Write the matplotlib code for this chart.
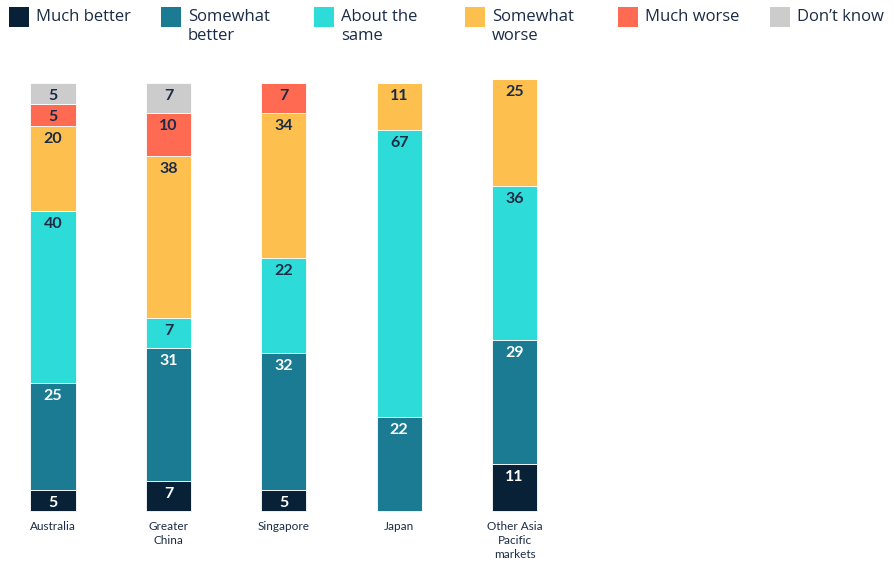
import matplotlib
matplotlib.use("Agg")
import matplotlib.pyplot as plt
from matplotlib.patches import Rectangle
import numpy as np

plt.rcParams['font.family'] = ['Lato', 'DejaVu Sans']

categories = ["Australia", "Greater\nChina", "Singapore", "Japan", "Other Asia\nPacific\nmarkets"]
series_names = ["Much better", "Somewhat\nbetter", "About the\nsame", "Somewhat\nworse", "Much worse", "Don\u2019t know"]
much_better = [5, 7, 5, 0, 11]
somewhat_better = [25, 31, 32, 22, 29]
about_same = [40, 7, 22, 67, 36]
somewhat_worse = [20, 38, 34, 11, 25]
much_worse = [5, 10, 7, 0, 0]
dont_know = [5, 7, 0, 0, 0]

series = [much_better, somewhat_better, about_same, somewhat_worse, much_worse, dont_know]
colors = ["#082137", "#1a7b92", "#2ddbd9", "#fdc04f", "#fe6b52", "#cccccc"]
label_colors = ["white", "white", "#1b2b45", "#1b2b45", "#1b2b45", "#1b2b45"]
text_color = "#1b2b45"

W, H = 894, 565
fig = plt.figure(figsize=(W / 100, H / 100), dpi=100)
ax_bottom_px, ax_top_px = 511, 83
ax = fig.add_axes([0, (H - ax_bottom_px) / H, 1, (ax_bottom_px - ax_top_px) / H])
spacing = 115.4
x0 = 53
ax.set_xlim(-x0 / spacing, (W - x0) / spacing)
ax.set_ylim(0, 100)
ax.axis('off')

x = np.arange(len(categories))
bottom = np.zeros(len(categories))
px_per_unit = (ax_bottom_px - ax_top_px) / 100
for vals, c, lc in zip(series, colors, label_colors):
    vals = np.array(vals, dtype=float)
    ax.bar(x, vals, bottom=bottom, width=45 / spacing, color=c, edgecolor='white', linewidth=0.6, clip_on=False)
    for xi, v, b in zip(x, vals, bottom):
        if v > 0:
            top = b + v
            ax.text(xi, top - 13 / px_per_unit, f"{int(v)}", ha='center', va='center',
                    fontsize=11.5, color=lc, fontweight='bold', clip_on=False)
    bottom += vals

for xi, cat in zip(x, categories):
    ax.text(xi, -10 / px_per_unit, cat, ha='center', va='top', fontsize=8.5,
            color=text_color, linespacing=1.35)

# legend
leg_x = [9, 161, 314, 465, 618, 770]
for lx, name, c in zip(leg_x, series_names, colors):
    fig.patches.append(Rectangle((lx / W, (H - 27) / H), 20 / W, 20 / H, transform=fig.transFigure,
                                 facecolor=c, edgecolor='none'))
    fig.text((lx + 27) / W, (H - 9) / H, name, ha='left', va='top', fontsize=12,
             color=text_color, linespacing=1.25, family=['Open Sans', 'DejaVu Sans'],
             fontweight='medium')

fig.savefig("out.png", dpi=100)
